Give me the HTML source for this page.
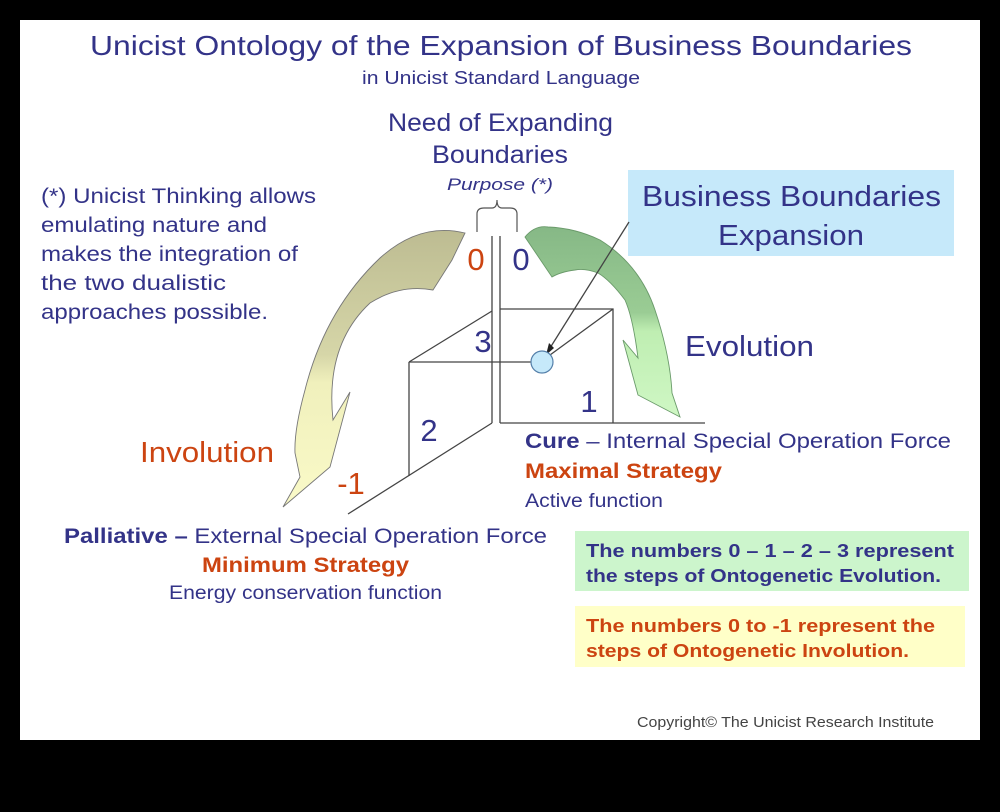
<!DOCTYPE html>
<html><head><meta charset="utf-8"><style>
html,body{margin:0;padding:0;background:#000;}
svg{display:block;font-family:"Liberation Sans",sans-serif;}
</style></head><body>
<svg width="1000" height="812" viewBox="0 0 1000 812" xmlns="http://www.w3.org/2000/svg">
<defs>
<linearGradient id="gl" x1="0" y1="0" x2="0" y2="1"><stop offset="0" stop-color="#bdbc92"/><stop offset="0.45" stop-color="#d6d6a8"/><stop offset="0.55" stop-color="#f0f0bc"/><stop offset="1" stop-color="#fafac8"/></linearGradient>
<linearGradient id="gr" x1="0" y1="0" x2="0" y2="1"><stop offset="0" stop-color="#86b886"/><stop offset="0.45" stop-color="#9acc94"/><stop offset="0.55" stop-color="#bfeeb2"/><stop offset="1" stop-color="#cff7c4"/></linearGradient>
</defs>
<rect x="0" y="0" width="1000" height="812" fill="#000"/>
<rect x="20" y="20" width="960" height="720" fill="#fff"/>
<g fill="#333388" lengthAdjust="spacingAndGlyphs">
<text x="90" y="55" font-size="28" textLength="822" lengthAdjust="spacingAndGlyphs">Unicist Ontology of the Expansion of Business Boundaries</text>
<text x="362" y="84" font-size="18" textLength="278" lengthAdjust="spacingAndGlyphs">in Unicist Standard Language</text>
<text x="388" y="131" font-size="25" textLength="225" lengthAdjust="spacingAndGlyphs">Need of Expanding</text>
<text x="432" y="163" font-size="25" textLength="136" lengthAdjust="spacingAndGlyphs">Boundaries</text>
<text x="447" y="190" font-size="17" font-style="italic" textLength="106" lengthAdjust="spacingAndGlyphs">Purpose (*)</text>
<text x="41" y="203" font-size="21" textLength="275" lengthAdjust="spacingAndGlyphs">(*) Unicist Thinking allows</text>
<text x="41" y="232" font-size="21" textLength="226" lengthAdjust="spacingAndGlyphs">emulating nature and</text>
<text x="41" y="261" font-size="21" textLength="257" lengthAdjust="spacingAndGlyphs">makes the integration of</text>
<text x="41" y="290" font-size="21" textLength="185" lengthAdjust="spacingAndGlyphs">the two dualistic</text>
<text x="41" y="319" font-size="21" textLength="227" lengthAdjust="spacingAndGlyphs">approaches possible.</text>
<text x="685" y="356" font-size="29" textLength="129" lengthAdjust="spacingAndGlyphs">Evolution</text>
</g>
<rect x="628" y="170" width="326" height="86" fill="#c6e9fa"/>
<text x="642" y="206" font-size="29" fill="#333388" textLength="299" lengthAdjust="spacingAndGlyphs">Business Boundaries</text>
<text x="718" y="245" font-size="29" fill="#333388" textLength="146" lengthAdjust="spacingAndGlyphs">Expansion</text>
<!-- brace -->
<path d="M477,232 L477,214 Q477,208 484,208 L492,208 Q497,208 497,200 Q497,208 502,208 L510,208 Q517,208 517,214 L517,232" fill="none" stroke="#555" stroke-width="1.2"/>
<!-- arrows -->
<path d="M465,233 Q420,222 380,258 Q325,310 305,390 Q294,430 295,453 L300,477 L283,507 L330,467 L350,392 L333,420 Q325,345 370,303 Q400,284 433,290 L452,260 Z" fill="url(#gl)" stroke="#777" stroke-width="0.9"/>
<path d="M525,237 Q535,225 548,227 Q575,228 600,240 Q640,265 655,310 Q670,355 672,393 L680,417 L638,395 L623,340 L638,358 Q633,318 625,300 Q610,280 598,273 Q585,268 575,270 Q560,272 552,277 Z" fill="url(#gr)" stroke="#6a9a6a" stroke-width="0.9"/>
<!-- cube lines -->
<g stroke="#444" stroke-width="1.3" fill="none">
<line x1="492" y1="236" x2="492" y2="423"/>
<line x1="500" y1="236" x2="500" y2="423"/>
<line x1="500" y1="423" x2="705" y2="423"/>
<line x1="492" y1="423" x2="348" y2="514"/>
<polyline points="500,309 613,309 613,423"/>
<line x1="409" y1="362" x2="531" y2="362"/>
<line x1="409" y1="362" x2="409" y2="476"/>
<line x1="409" y1="362" x2="492" y2="311"/>
<line x1="550" y1="355" x2="613" y2="309"/>
<line x1="629" y1="222" x2="550" y2="348"/>
</g>
<polygon points="546,355 549,343 554,348" fill="#222"/>
<circle cx="542" cy="362" r="11" fill="#c6e9fa" stroke="#5580aa" stroke-width="1.2"/>
<text x="476" y="270" font-size="31" fill="#cc4411" text-anchor="middle">0</text>
<text x="521" y="270" font-size="31" fill="#333388" text-anchor="middle">0</text>
<text x="483" y="352" font-size="31" fill="#333388" text-anchor="middle">3</text>
<text x="589" y="412" font-size="31" fill="#333388" text-anchor="middle">1</text>
<text x="429" y="441" font-size="31" fill="#333388" text-anchor="middle">2</text>
<text x="351" y="494" font-size="31" fill="#cc4411" text-anchor="middle">-1</text>
<text x="140" y="462" font-size="29" fill="#cc4411" textLength="134" lengthAdjust="spacingAndGlyphs">Involution</text>
<text x="525" y="448" font-size="21" fill="#333388" textLength="426" lengthAdjust="spacingAndGlyphs"><tspan font-weight="bold">Cure</tspan> – Internal Special Operation Force</text>
<text x="525" y="478" font-size="21" fill="#cc4411" font-weight="bold" textLength="197" lengthAdjust="spacingAndGlyphs">Maximal Strategy</text>
<text x="525" y="507" font-size="19" fill="#333388" textLength="138" lengthAdjust="spacingAndGlyphs">Active function</text>
<text x="64" y="543" font-size="21" fill="#333388" textLength="483" lengthAdjust="spacingAndGlyphs"><tspan font-weight="bold">Palliative –</tspan> External Special Operation Force</text>
<text x="202" y="572" font-size="21" fill="#cc4411" font-weight="bold" textLength="207" lengthAdjust="spacingAndGlyphs">Minimum Strategy</text>
<text x="169" y="599" font-size="19" fill="#333388" textLength="273" lengthAdjust="spacingAndGlyphs">Energy conservation function</text>
<rect x="575" y="531" width="394" height="60" fill="#ccf5cc"/>
<text x="586" y="557" font-size="18" font-weight="bold" fill="#333388" textLength="368" lengthAdjust="spacingAndGlyphs">The numbers  0 – 1 – 2 – 3 represent</text>
<text x="586" y="582" font-size="18" font-weight="bold" fill="#333388" textLength="355" lengthAdjust="spacingAndGlyphs">the steps of Ontogenetic Evolution.</text>
<rect x="575" y="606" width="390" height="61" fill="#ffffc8"/>
<text x="586" y="632" font-size="18" font-weight="bold" fill="#cc4411" textLength="349" lengthAdjust="spacingAndGlyphs">The numbers  0 to -1 represent the</text>
<text x="586" y="657" font-size="18" font-weight="bold" fill="#cc4411" textLength="323" lengthAdjust="spacingAndGlyphs">steps of Ontogenetic Involution.</text>
<text x="637" y="727" font-size="15" fill="#444" textLength="297" lengthAdjust="spacingAndGlyphs">Copyright© The Unicist Research Institute</text>
</svg>
</body></html>
